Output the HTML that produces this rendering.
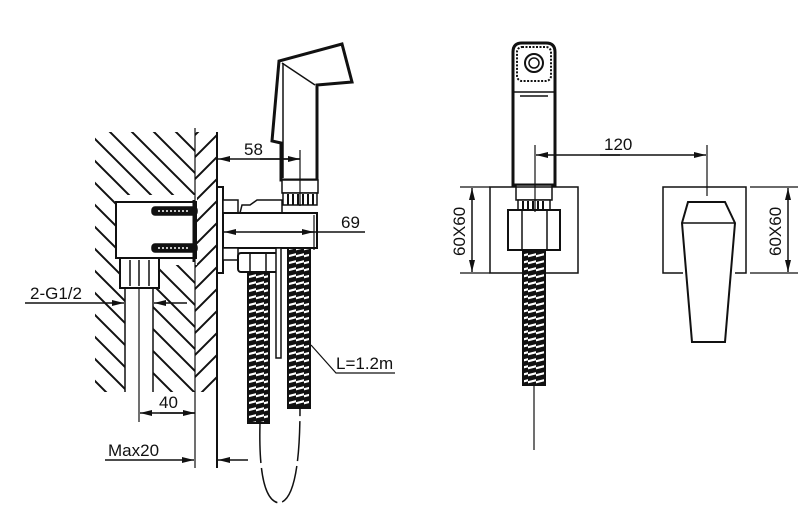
<!DOCTYPE html>
<html><head><meta charset="utf-8"><style>
html,body{margin:0;padding:0;background:#fff;}
svg{display:block;}
text{font-family:"Liberation Sans",sans-serif;font-size:17px;fill:#111;}
</style></head><body>
<svg width="810" height="513" viewBox="0 0 810 513" xmlns="http://www.w3.org/2000/svg">
<defs>
<pattern id="hose" width="8" height="7" patternUnits="userSpaceOnUse">
<rect width="8" height="7" fill="#111"/>
<path d="M-1 4.5 L9 2" stroke="#fff" stroke-width="2.2"/>
</pattern>
<pattern id="hatchL" width="22" height="22" patternUnits="userSpaceOnUse">
<path d="M0 0 L22 22 M-11 11 L11 33 M11 -11 L33 11" stroke="#111" stroke-width="2"/>
</pattern>
<pattern id="hatchR" width="22" height="22" patternUnits="userSpaceOnUse">
<path d="M0 22 L22 0 M-11 11 L11 -11 M11 33 L33 11" stroke="#111" stroke-width="2"/>
</pattern>
<marker id="ar" markerWidth="12" markerHeight="6" refX="12" refY="3" orient="auto" markerUnits="userSpaceOnUse">
<path d="M0 0 L12 3 L0 6 Z" fill="#111"/></marker>
</defs>
<g stroke="#111" fill="none" stroke-width="1.5">
<rect x="95" y="132" width="100" height="260" fill="url(#hatchL)" stroke="none"/>
<rect x="195" y="132" width="22" height="260" fill="url(#hatchR)" stroke="none"/>
<rect x="116" y="195" width="81" height="70" fill="#fff" stroke="none"/>
<rect x="125" y="265" width="28" height="130" fill="#fff" stroke="none"/>
<line x1="217" y1="132" x2="217" y2="468" stroke-width="2"/>
<line x1="195" y1="128" x2="195" y2="468" stroke-width="1.2"/>
<line x1="125" y1="288" x2="125" y2="392"/>
<line x1="153" y1="288" x2="153" y2="392"/>
<line x1="139" y1="262" x2="139" y2="422" stroke-width="1.2"/>
<rect x="116" y="202" width="80" height="56" fill="#fff" stroke-width="2"/>
<rect x="120" y="258" width="39" height="30" fill="#fff" stroke-width="2"/>
<line x1="130" y1="260" x2="130" y2="286"/><line x1="139" y1="260" x2="139" y2="286"/><line x1="149" y1="260" x2="149" y2="286"/>
<rect x="152" y="207" width="45" height="8" rx="3" fill="#111" stroke-width="1.5"/>
<rect x="152" y="244" width="45" height="8" rx="3" fill="#111" stroke-width="1.5"/>
<line x1="158" y1="211" x2="190" y2="211" stroke="#fff" stroke-dasharray="2 2"/>
<line x1="158" y1="248" x2="190" y2="248" stroke="#fff" stroke-dasharray="2 2"/>
<line x1="194" y1="200" x2="194" y2="262" stroke-width="3"/>
<rect x="217" y="187" width="6" height="86" fill="#fff" stroke-width="2"/>
<rect x="223" y="200" width="15" height="13" fill="#fff"/>
<path d="M240 213 L242 205 L250 205 L257 200 L282 200 L282 213" fill="#fff"/>
<rect x="223" y="213" width="94" height="35" fill="#fff" stroke-width="2"/>
<rect x="223" y="248" width="15" height="12" fill="#fff"/>
<rect x="238" y="253" width="40" height="19" rx="3" fill="#fff" stroke-width="2"/>
<line x1="250" y1="253" x2="250" y2="272"/><line x1="266" y1="253" x2="266" y2="272"/>
<rect x="248" y="272" width="21" height="151" fill="url(#hose)" stroke-width="2"/>
<rect x="288" y="248" width="22" height="160" fill="url(#hose)" stroke-width="2"/>
<rect x="276" y="248" width="5" height="110" fill="#fff"/>
<path d="M260 423 Q258 500 279 503 Q300 500 300 408" stroke-dasharray="40 5"/>
<path d="M281 143 L272 141 L279 61 L342 44 L352 82 L317 85 L317 180 L281 180 Z" fill="#fff" stroke-width="3"/>
<line x1="282" y1="63" x2="315" y2="85"/>
<line x1="283" y1="63" x2="283" y2="178"/>
<rect x="282" y="180" width="36" height="13" fill="#fff"/>
<rect x="283" y="193" width="34" height="12" fill="#fff"/>
<path d="M288 194 V205 M293 194 V205 M298 194 V205 M303 194 V205 M308 194 V205 M313 194 V205" stroke-width="2"/>
<line x1="300" y1="150" x2="300" y2="206" stroke-width="1.2"/>
<line x1="300" y1="159" x2="218" y2="159" marker-end="url(#ar)"/>
<line x1="260" y1="159" x2="300" y2="159" marker-end="url(#ar)"/>
<line x1="365" y1="232" x2="224" y2="232" marker-end="url(#ar)"/>
<line x1="260" y1="232" x2="314" y2="232" marker-end="url(#ar)"/>
<line x1="314" y1="215" x2="314" y2="250" stroke-width="1.2"/>
<line x1="25" y1="303" x2="124" y2="303" marker-end="url(#ar)"/>
<line x1="187" y1="303" x2="154" y2="303" marker-end="url(#ar)"/>
<line x1="195" y1="413" x2="140" y2="413" marker-end="url(#ar)"/>
<line x1="160" y1="413" x2="195" y2="413" marker-end="url(#ar)"/>
<line x1="105" y1="460" x2="194" y2="460" marker-end="url(#ar)"/>
<line x1="248" y1="460" x2="218" y2="460" marker-end="url(#ar)"/>
<path d="M311 345 L336 373 L395 373" stroke-width="1.2"/>
<path d="M513 185 V52 Q513 43 522 43 H546 Q555 43 555 52 V185 Z" fill="#fff" stroke-width="3"/>
<rect x="517" y="47" width="34" height="34" rx="5" stroke-dasharray="2 1.5" stroke-width="2"/>
<circle cx="534" cy="63" r="9" stroke-width="2"/><circle cx="534" cy="63" r="5"/>
<line x1="513" y1="92" x2="555" y2="92"/><line x1="520" y1="96" x2="548" y2="96"/>
<rect x="516" y="185" width="36" height="15" fill="#fff"/>
<rect x="518" y="200" width="32" height="10" fill="#fff"/>
<path d="M523 201 V210 M528 201 V210 M533 201 V210 M538 201 V210 M543 201 V210" stroke-width="2"/>
<rect x="490" y="187" width="88" height="86"/>
<rect x="508" y="210" width="52" height="40" fill="#fff" stroke-width="2"/>
<line x1="522" y1="210" x2="522" y2="250"/><line x1="547" y1="210" x2="547" y2="250"/>
<rect x="523" y="250" width="22" height="135" fill="url(#hose)" stroke-width="2"/>
<line x1="534" y1="385" x2="534" y2="450" stroke-width="1.2"/>
<line x1="535" y1="145" x2="535" y2="212" stroke-width="1.2"/>
<line x1="707" y1="145" x2="707" y2="196" stroke-width="1.2"/>
<line x1="620" y1="155" x2="536" y2="155" marker-end="url(#ar)"/>
<line x1="600" y1="155" x2="706" y2="155" marker-end="url(#ar)"/>
<path d="M683 273 H663 V187 H746 V273 H735"/>
<path d="M688 202 L725 202 L735 223 L725 342 L692 342 L682 223 Z" fill="#fff" stroke-width="2"/>
<line x1="682" y1="223" x2="735" y2="223"/>
<path d="M460 187 H490 M460 273 H490 M750 187 H798 M750 273 H798" stroke-width="1.2"/>
<line x1="472" y1="230" x2="472" y2="188" marker-end="url(#ar)"/>
<line x1="472" y1="230" x2="472" y2="272" marker-end="url(#ar)"/>
<line x1="788" y1="230" x2="788" y2="188" marker-end="url(#ar)"/>
<line x1="788" y1="230" x2="788" y2="272" marker-end="url(#ar)"/>
</g>
<text x="244" y="155">58</text>
<text x="341" y="228">69</text>
<text x="30" y="299">2-G1/2</text>
<text x="159" y="408">40</text>
<text x="108" y="456">Max20</text>
<text x="336" y="369">L=1.2m</text>
<text x="604" y="150">120</text>
<text transform="translate(465,256) rotate(-90)">60X60</text>
<text transform="translate(781,256) rotate(-90)">60X60</text>
</svg>
</body></html>
